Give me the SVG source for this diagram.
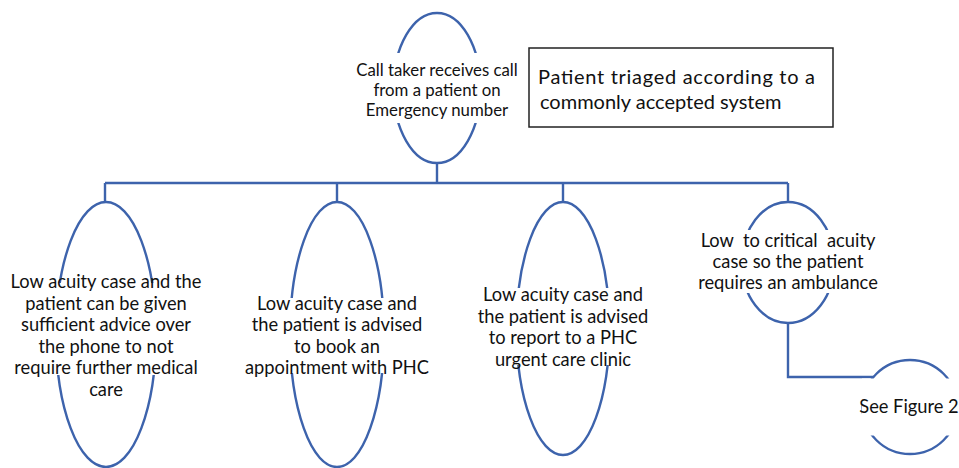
<svg xmlns="http://www.w3.org/2000/svg" width="959" height="468" viewBox="0 0 959 468">
<style>
.ell{fill:none;stroke:#3D63AC;stroke-width:2.4}
.con{fill:none;stroke:#3D63AC;stroke-width:2.4}
.gap{fill:#fff;stroke:none}
.t{font-family:Lato,"Liberation Sans",sans-serif;fill:#111;text-anchor:middle}
.s15{font-size:16.8px}
.s16{font-size:18.3px}
.s19{font-size:20px}
</style>
<rect width="959" height="468" fill="#fff"/>
<g id="connectors">
<path class="con" d="M437 163V183M105 183H788M105 183V202M337 183V202M563 183V202M788 183V202M788 322V377H874"/>
</g>
<g id="n-call">
<ellipse class="ell" cx="437" cy="88" rx="43.5" ry="75"/>
<rect class="gap" x="385" y="53" width="104" height="70"/>
<text class="t s15"><tspan x="437" y="76">Call taker receives call</tspan><tspan x="437" y="96">from a patient on</tspan><tspan x="437" y="116">Emergency number</tspan></text>
</g>
<g id="n-triage">
<rect x="529" y="48" width="304" height="79" fill="#fff" stroke="#222" stroke-width="1.5"/>
<text class="t s19" style="text-anchor:start"><tspan x="538" y="84" textLength="277" lengthAdjust="spacing">Patient triaged according to a</tspan><tspan x="540" y="109">commonly accepted system</tspan></text>
</g>
<g id="n-advice">
<ellipse class="ell" cx="106" cy="334.5" rx="50" ry="132.5"/>
<rect class="gap" x="50" y="283" width="112" height="92"/>
<text class="t s16"><tspan x="106" y="288">Low acuity case and the</tspan><tspan x="106" y="309.5">patient can be given</tspan><tspan x="106" y="331">sufficient advice over</tspan><tspan x="106" y="352.5">the phone to not</tspan><tspan x="106" y="374">require further medical</tspan><tspan x="106" y="395.5">care</tspan></text>
</g>
<g id="n-book">
<ellipse class="ell" cx="337" cy="334.5" rx="47" ry="132.5"/>
<rect class="gap" x="285" y="298" width="104" height="75"/>
<text class="t s16"><tspan x="337" y="309.5">Low acuity case and</tspan><tspan x="337" y="331">the patient is advised</tspan><tspan x="337" y="352.5">to book an</tspan><tspan x="337" y="374">appointment with PHC</tspan></text>
</g>
<g id="n-urgent">
<ellipse class="ell" cx="563" cy="328.5" rx="46.5" ry="126.5"/>
<rect class="gap" x="511" y="288" width="104" height="77"/>
<text class="t s16"><tspan x="563" y="301">Low acuity case and</tspan><tspan x="563" y="322.5">the patient is advised</tspan><tspan x="563" y="344">to report to a PHC</tspan><tspan x="563" y="365.5">urgent care clinic</tspan></text>
</g>
<g id="n-ambulance">
<ellipse class="ell" cx="788" cy="262.5" rx="46.3" ry="60.5"/>
<rect class="gap" x="735" y="230" width="106" height="63"/>
<text class="t s16" xml:space="preserve"><tspan x="788" y="247">Low  to critical  acuity</tspan><tspan x="788" y="268">case so the patient</tspan><tspan x="788" y="289">requires an ambulance</tspan></text>
</g>
<g id="n-fig2">
<ellipse class="ell" cx="910" cy="407" rx="47.4" ry="47"/>
<rect class="gap" x="862" y="378.5" width="97" height="57"/>
<text class="t s16"><tspan x="909" y="413">See Figure 2</tspan></text>
</g>
</svg>
